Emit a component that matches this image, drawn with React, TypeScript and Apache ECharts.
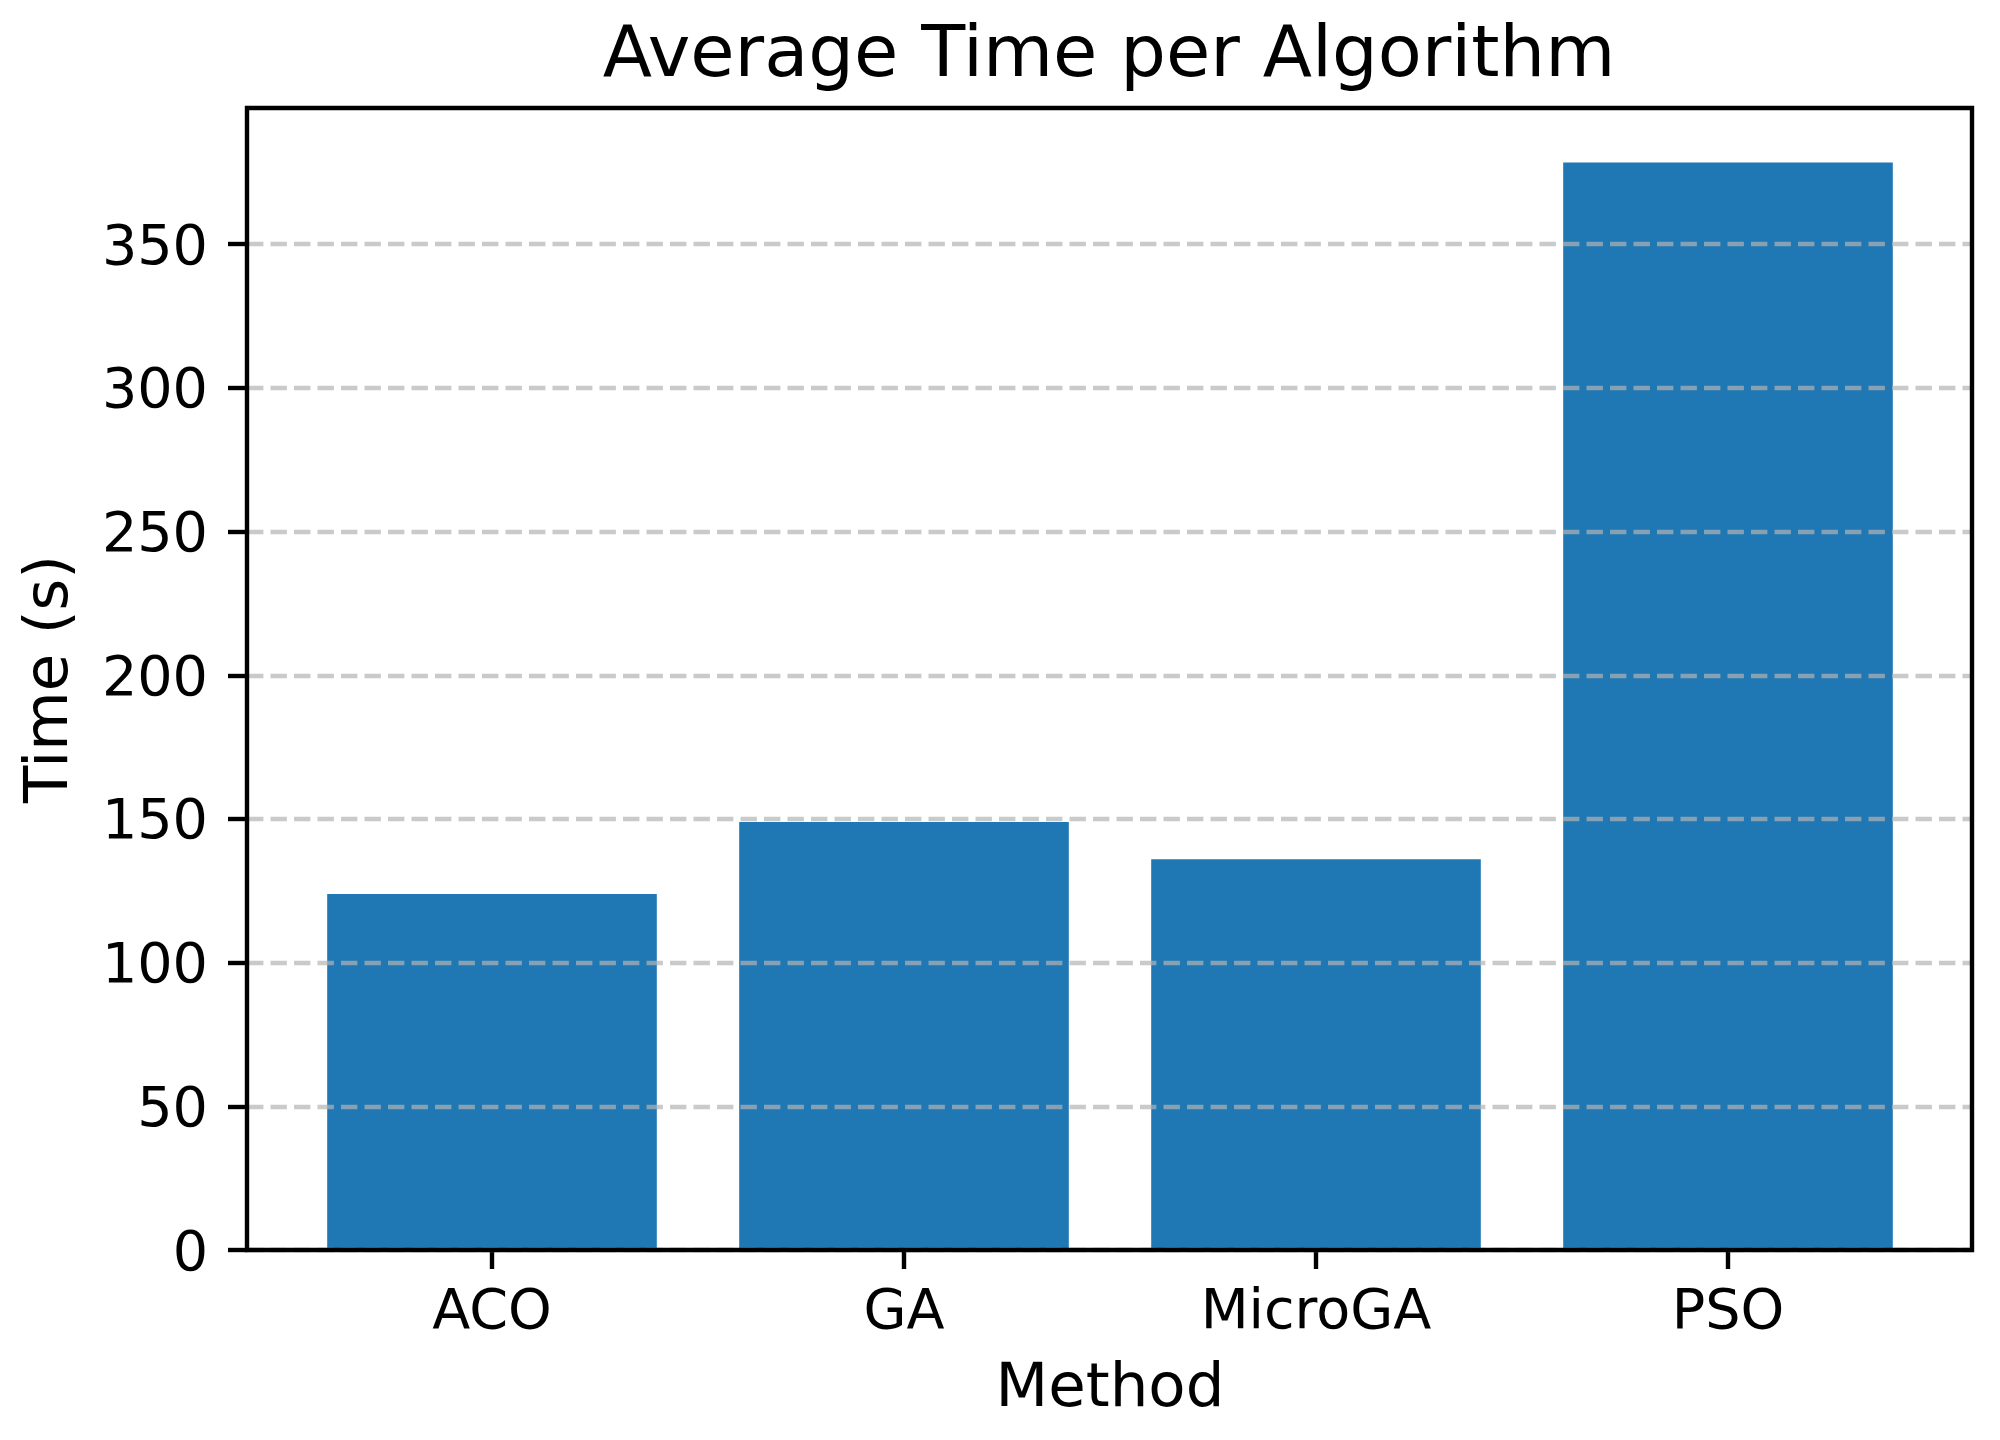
import React, { useEffect, useRef } from "react";
import * as echarts from "echarts";

const categories = ["ACO", "GA", "MicroGA", "PSO"];
const times = [123.9, 148.9, 136.0, 378.4];
const yTicks = [0, 50, 100, 150, 200, 250, 300, 350];
const yMax = 397.4;

const FONT = "DejaVu Sans";

export default function App() {
  const ref = useRef<HTMLDivElement>(null);
  useEffect(() => {
    document.body.style.margin = "0";
    const chart = echarts.init(ref.current!, null, { renderer: "svg" });
    const tickStyle = { color: "#000", width: 4.4 };
    const option: any = {
      animation: false,
      backgroundColor: "#ffffff",
      grid: [
        {
          left: 247,
          top: 108,
          width: 1725,
          height: 1142,
          show: true,
          borderColor: "#000",
          borderWidth: 4.4,
          backgroundColor: "transparent",
          z: 10,
        },
        { left: 286, top: 108, width: 1648, height: 1142 },
      ],
      xAxis: [
        { type: "value", gridIndex: 0, min: 0, max: 1, show: false },
        {
          type: "category",
          gridIndex: 1,
          data: categories,
          axisLine: { show: false },
          axisTick: { show: true, alignWithLabel: true, length: 19, lineStyle: tickStyle },
          axisLabel: { margin: 30, fontSize: 55.6, color: "#000", fontFamily: FONT },
          splitLine: { show: false },
          name: "Method",
          nameLocation: "middle",
          nameGap: 104,
          nameTextStyle: { fontSize: 61, color: "#000", fontFamily: FONT },
        },
      ],
      yAxis: [
        {
          type: "value",
          gridIndex: 0,
          min: 0,
          max: yMax,
          interval: 50,
          z: 5,
          axisLine: { show: false },
          axisTick: { show: true, length: 19, lineStyle: tickStyle, customValues: yTicks },
          axisLabel: {
            margin: 39,
            fontSize: 55.6,
            color: "#000",
            fontFamily: FONT,
            customValues: yTicks,
          },
          splitLine: {
            show: true,
            lineStyle: { color: "rgba(180,180,180,0.7)", width: 4.4, type: [16.4, 7.1] },
          },
          name: "Time (s)",
          nameLocation: "middle",
          nameGap: 171,
          nameRotate: 90,
          nameTextStyle: { fontSize: 61, color: "#000", fontFamily: FONT },
        },
        { type: "value", gridIndex: 1, min: 0, max: yMax, show: false },
      ],
      series: [
        {
          type: "bar",
          xAxisIndex: 1,
          yAxisIndex: 1,
          data: times,
          barWidth: "80%",
          itemStyle: { color: "#1f77b4" },
          z: 2,
        },
      ],
      graphic: [
        {
          type: "text",
          x: 1109,
          y: 51,
          style: {
            text: "Average Time per Algorithm",
            fontSize: 72,
            fontFamily: FONT,
            fill: "#000",
            align: "center",
            verticalAlign: "middle",
            textAlign: "center",
            textVerticalAlign: "middle",
          },
        },
      ],
    };
    chart.setOption(option);
    return () => chart.dispose();
  }, []);
  return <div ref={ref} style={{ width: 2000, height: 1440 }} />;
}
